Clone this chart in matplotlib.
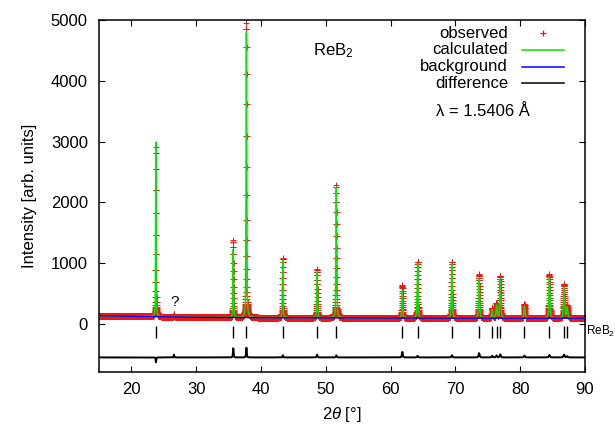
import numpy as np
import matplotlib
matplotlib.use("Agg")
import matplotlib.pyplot as plt
from matplotlib.lines import Line2D

plt.rcParams['font.family'] = ['Liberation Sans', 'DejaVu Sans']
plt.rcParams['mathtext.fontset'] = 'custom'
plt.rcParams['mathtext.rm'] = 'Liberation Sans'
plt.rcParams['mathtext.it'] = 'Liberation Sans:italic'

# ReB2 reflections: 2theta positions (deg) and net peak heights
refl_pos = [23.78, 35.72, 37.75, 43.36, 48.66, 51.62, 61.81, 64.17, 69.46,
            73.66, 75.68, 76.35, 76.92, 80.65, 84.50, 86.76, 87.25]
calc_height = [2870, 1120, 4690, 950, 760, 2150, 450, 900, 890,
               650, 140, 210, 640, 200, 680, 510, 180]
obs_height = [2790, 1270, 4850, 985, 805, 2185, 540, 925, 925,
              720, 165, 240, 690, 230, 720, 555, 200]

# weak unindexed reflection marked with "?"
extra_pos = [26.56]
extra_height = [45]

# refined background points
bg_x = [15, 20, 25, 30, 40, 50, 60, 70, 80, 90]
bg_y = [135, 128, 118, 110, 103, 100, 98, 96, 95, 95]

diff_offset = -550
wavelength = 1.5406


def pseudo_voigt(x, x0, eta=0.45):
    w = 0.09 + 0.0018 * (x0 - 20)
    u = (x - x0) / w
    return eta / (1 + 4 * u**2) + (1 - eta) * np.exp(-4 * np.log(2) * u**2)


tt = np.arange(15.0, 90.001, 0.01)
base = np.interp(tt, bg_x, bg_y)
calc = base.copy()
obs = base.copy()
for p, hc, ho in zip(refl_pos, calc_height, obs_height):
    shape = pseudo_voigt(tt, p)
    calc += hc * shape
    obs += ho * shape
for p, h in zip(extra_pos, extra_height):
    obs += h * pseudo_voigt(tt, p)
diff = obs - calc + diff_offset

fig = plt.figure(figsize=(6.15, 4.26), dpi=100)
ax = fig.add_axes([99 / 615, 54 / 426, 486 / 615, 352 / 426])

red = '#ff1010'
green = '#00e600'
ax.plot(tt, obs, ls='none', marker='+', ms=4.0, mew=0.7, color=red, zorder=2)
ax.plot(tt, calc, color=green, lw=1.1, zorder=3)
ax.plot(bg_x, bg_y, color='#0000ff', lw=1.0, zorder=4)
ax.plot(tt, diff, color='black', lw=1.4, zorder=3)
ax.vlines(refl_pos, -230, -30, color='black', lw=1.0, zorder=3)

ax.set_xlim(15, 90)
ax.set_ylim(-790, 5000)
ax.set_xticks(range(20, 91, 10))
ax.set_yticks(range(0, 5001, 1000))
ax.tick_params(direction='in', length=4, width=0.8, top=True, right=True,
               labelsize=12, colors='black')
ax.tick_params(axis='y', pad=8)
ax.tick_params(axis='x', pad=7)
for s in ax.spines.values():
    s.set_linewidth(1.1)

ax.set_xlabel(r'2$\theta$ [°]', fontsize=12, labelpad=6)
ax.set_ylabel('Intensity [arb. units]', fontsize=12, labelpad=10)

ax.text(26.6, 362, '?', fontsize=11, ha='center', va='center')
ax.text(51.1, 4500, 'ReB$_2$', fontsize=12, ha='center', va='center')
ax.text(1.003, (372 - 331) / 352, 'ReB$_2$', transform=ax.transAxes,
        fontsize=8.5, ha='left', va='center')
ax.text((483 - 99) / 486, (372 - 112) / 352, f'λ = {wavelength} Å',
        transform=ax.transAxes, fontsize=12, ha='center', va='center')

# key: labels on the left, samples on the right
entries = [('observed', 33, 'obs'), ('calculated', 50, green),
           ('background', 67, '#0000ff'), ('difference', 83, 'black')]
for label, py, style in entries:
    fy = (372 - py) / 352
    ax.text((508 - 99) / 486, fy, label, transform=ax.transAxes,
            fontsize=12, ha='right', va='center')
    if style == 'obs':
        ax.add_line(Line2D([(543 - 99) / 486], [fy], transform=ax.transAxes,
                           ls='none', marker='+', ms=4.0, mew=0.9, color=red))
    else:
        ax.add_line(Line2D([(522 - 99) / 486, (564 - 99) / 486], [fy, fy],
                           transform=ax.transAxes, color=style, lw=1.1))

fig.savefig('out.png', dpi=100)
